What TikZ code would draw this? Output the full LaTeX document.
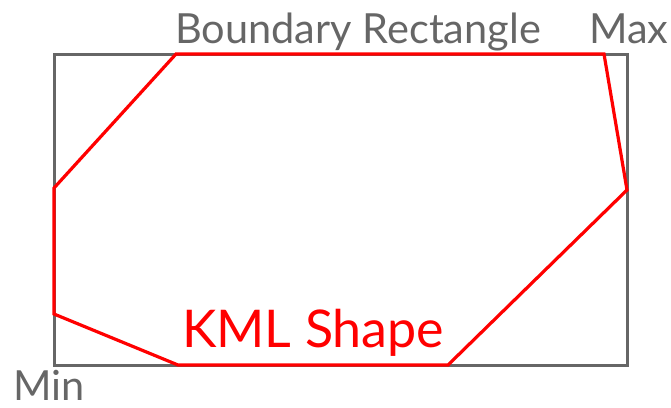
\documentclass[tikz,border=0pt]{standalone}
\usepackage{fontspec}
\setmainfont{Lato}
\definecolor{rgray}{HTML}{666666}
\definecolor{kred}{HTML}{FF0000}
\tikzset{
  boxline/.style={draw=rgray, line width=3pt},
  shapeline/.style={draw=kred, line width=3.2pt, line join=miter},
  graylabel/.style={text=rgray, font=\fontsize{41.5}{41.5}\selectfont, inner sep=0pt},
  redlabel/.style={text=kred, font=\fontsize{52}{52}\selectfont, inner sep=0pt}
}
\begin{document}
\begin{tikzpicture}[x=1pt,y=-1pt]
\useasboundingbox (0,0) rectangle (671,407);
\coordinate (bmin) at (54,365);
\coordinate (bmax) at (627,54);
\draw[boxline] (bmin) rectangle (bmax);
\coordinate (p1) at (176,54);
\coordinate (p2) at (604,54);
\coordinate (p3) at (627,190);
\coordinate (p4) at (448,365);
\coordinate (p5) at (178,365);
\coordinate (p6) at (54,314);
\coordinate (p7) at (54,188);
\draw[shapeline] (p1) -- (p2) -- (p3) -- (p4) -- (p5) -- (p6) -- (p7) -- cycle;
\node[graylabel, anchor=base west] (tbr) at (175,43) {Boundary Rectangle};
\node[graylabel, anchor=base west] (tmax) at (589,43) {Max};
\node[graylabel, anchor=base west] (tmin) at (13,400) {Min};
\node[redlabel, anchor=base west] (tkml) at (182,347) {KML Shape};
\end{tikzpicture}
\end{document}
